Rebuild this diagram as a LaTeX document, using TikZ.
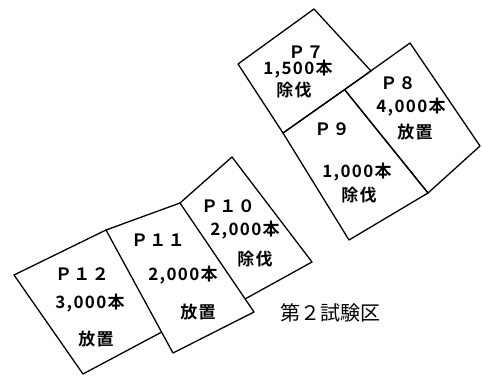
\documentclass[tikz,border=0pt]{standalone}
\usepackage{fontspec}
\usetikzlibrary{calc}
\newfontfamily\jp{Noto Sans CJK JP}
\newfontfamily\jpb[LetterSpace=8]{Noto Sans CJK JP Bold}
\begin{document}
\begin{tikzpicture}[x=1pt,y=-1pt,
  plotbox/.style={draw=black, line width=1.3pt, line join=round},
  lab/.style={font=\jpb\fontsize{17}{17}\selectfont, inner sep=0pt, anchor=center},
  ttl/.style={font=\jp\fontsize{20}{20}\selectfont, inner sep=0pt, anchor=west}]
\useasboundingbox (0,0) rectangle (482,376);
% P7
\coordinate (p7t) at (314,9);
\coordinate (p7r) at (371,71);
\coordinate (p7b) at (283,133);
\coordinate (p7l) at (238,64);
% P8
\coordinate (p8l) at ($(p7r)!0.3!(p7b)$);
\coordinate (p8t) at (410,43);
\coordinate (p8r) at (480,146);
\coordinate (p8b) at (428,193);
% P9
\coordinate (p9b) at (349,240);
% P11
\coordinate (p11tl) at (106,230);
\coordinate (p11tr) at (180,203);
\coordinate (p11r) at (254,312);
\coordinate (p11b) at (173,353);
% P10
\coordinate (p10t) at (232,157);
\coordinate (p10r) at (312,262);
\coordinate (p10b) at ($(p11tr)!0.88!(p11r)$);
% P12
\coordinate (p12l) at (14,275);
\coordinate (p12r) at ($(p11tl)!0.83!(p11b)$);
\coordinate (p12b) at (83,374);

\draw[plotbox] (p7t) -- (p7r) -- (p7b) -- (p7l) -- cycle;
\draw[plotbox] (p8l) -- (p8t) -- (p8r) -- (p8b) -- cycle;
\draw[plotbox] (p7b) -- (p8l) -- (p8b) -- (p9b) -- cycle;
\draw[plotbox] (p11tr) -- (p10t) -- (p10r) -- (p10b);
\draw[plotbox] (p11tl) -- (p11tr) -- (p11r) -- (p11b) -- cycle;
\draw[plotbox] (p11tl) -- (p12l) -- (p12b) -- (p12r);

% labels
\node[lab] (t7a) at (306,52) {Ｐ７};
\node[lab] (t7b) at (298,69) {1,500本};
\node[lab] (t7c) at (294,90) {除伐};
\node[lab] (t8a) at (398,83) {Ｐ８};
\node[lab] (t8b) at (411,107) {4,000本};
\node[lab] (t8c) at (415,132) {放置};
\node[lab] (t9a) at (332,129) {Ｐ９};
\node[lab] (t9b) at (357,172) {1,000本};
\node[lab] (t9c) at (359,195) {除伐};
\node[lab] (t10a) at (228,206) {Ｐ１０};
\node[lab] (t10b) at (245,230) {2,000本};
\node[lab] (t10c) at (255,259) {除伐};
\node[lab] (t11a) at (158,240) {Ｐ１１};
\node[lab] (t11b) at (183,275) {2,000本};
\node[lab] (t11c) at (198,312) {放置};
\node[lab] (t12a) at (82,274) {Ｐ１２};
\node[lab] (t12b) at (90,303) {3,000本};
\node[lab] (t12c) at (96,339) {放置};
\node[ttl] (title) at (280,313) {第２試験区};
\end{tikzpicture}
\end{document}
